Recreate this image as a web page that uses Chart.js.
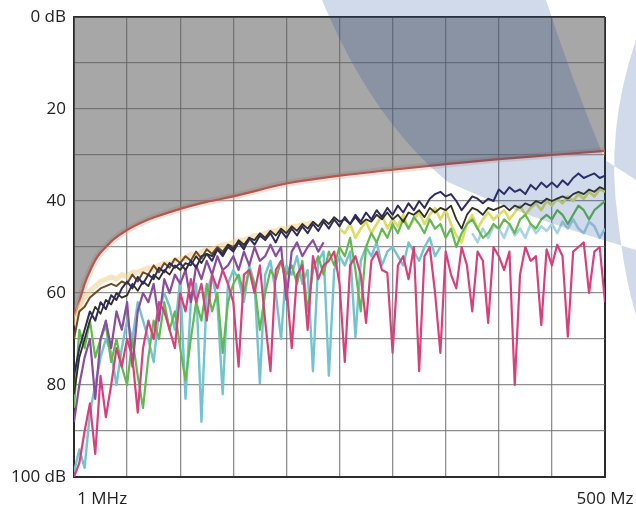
<!DOCTYPE html>
<html>
<head>
<meta charset="utf-8">
<script src="https://cdn.jsdelivr.net/npm/chart.js@4"></script>
<style>
  html, body { margin: 0; padding: 0; background: #fff; }
</style>
</head>
<body>
<canvas id="graph" width="636" height="513"></canvas>
<script>
// sample positions along the x axis, in grid divisions (1 MHz .. 500 MHz)
const freq = [
  0, 0.1, 0.2, 0.3, 0.4, 0.5, 0.6, 0.7, 0.8, 0.9,
  1, 1.1, 1.2, 1.3, 1.4, 1.5, 1.6, 1.7, 1.8, 1.9,
  2, 2.1, 2.2, 2.3, 2.4, 2.5, 2.6, 2.7, 2.8, 2.9,
  3, 3.1, 3.2, 3.3, 3.4, 3.5, 3.6, 3.7, 3.8, 3.9,
  4, 4.1, 4.2, 4.3, 4.4, 4.5, 4.6, 4.7, 4.8, 4.9,
  5, 5.1, 5.2, 5.3, 5.4, 5.5, 5.6, 5.7, 5.8, 5.9,
  6, 6.1, 6.2, 6.3, 6.4, 6.5, 6.6, 6.7, 6.8, 6.9,
  7, 7.1, 7.2, 7.3, 7.4, 7.5, 7.6, 7.7, 7.8, 7.9,
  8, 8.1, 8.2, 8.3, 8.4, 8.5, 8.6, 8.7, 8.8, 8.9,
  9, 9.1, 9.2, 9.3, 9.4, 9.5, 9.6, 9.7, 9.8, 9.9,
  10
];

// limit curve
const limitX = [0, 0.05, 0.11, 0.2, 0.3, 0.43, 0.6, 0.75, 1.0, 1.25, 1.5, 2, 2.5, 3, 4, 5, 6, 7, 8, 9, 10];
const limitDb = [65, 63.5, 61.5, 58, 55.2, 52.3, 50, 48.3, 46.3, 44.8, 43.6, 41.7, 40.2, 39, 36.2, 34.5, 33.2, 32, 30.9, 30, 29.1];

// measured traces (dB), starting at freq index given in the *Start constants
const navyDb = [
  78, 72, 68, 64, 66, 62, 63.5, 60.5, 61.5, 59,
  57.5, 59, 56.5, 58, 56, 57, 54.5, 55.5, 53.5, 54.5,
  53.5, 55, 53, 54.5, 52, 51.5, 53, 50.5, 52, 50,
  51, 49, 50.5, 48, 49.5, 47.5, 48.5, 47, 49, 46.5,
  48, 46, 47.5, 45.5, 47, 45, 46.5, 44.5, 46, 44,
  45.5, 43.5, 45, 43, 44.5, 42.5, 44, 42, 43.5, 41.5,
  43, 41, 42.5, 40.5, 42, 40, 41.5, 39.5, 38.5, 38,
  39, 38.5, 40, 42, 40.5, 39, 39.5, 40.5, 39.5, 40,
  37.5, 38.5, 37, 38, 37.5, 38.5, 36.5, 37.5, 36, 37,
  36, 37, 35.5, 36.5, 35, 34, 35, 34.5, 34, 35,
  34.5
];
const blackDb = [
  82, 74, 70, 66, 63, 64.5, 61.5, 62.5, 60, 61,
  60.5, 58, 59.5, 57.5, 58.5, 56, 57, 55, 56, 54,
  55, 53.5, 54, 52, 53.5, 51.5, 52, 50.5, 51.5, 49.5,
  50.5, 48.5, 49.5, 48, 48.5, 47, 48, 46.5, 47.5, 46,
  47, 45.5, 46.5, 45, 46, 44.5, 45.5, 44, 45, 43.5,
  44.5, 44, 45, 43.5, 45, 44, 44.5, 43, 44, 42.5,
  44, 43, 44.5, 42.5, 43, 42, 43.5, 41.5, 42.5, 41.5,
  42, 41, 44, 46, 43, 41.5, 42, 43, 41.5, 42,
  41.5, 41, 42, 41, 41.5, 40.5, 41, 40, 40.5, 39.5,
  40, 39.5, 39, 39.5, 38.5, 38, 38.5, 37.5, 38, 37,
  37.5
];
const brownDb = [
  70, 64, 63, 61, 60, 59, 58.5, 58, 58.5, 57.5,
  58, 56, 57.5, 55.5, 56, 54, 55.5, 53.5, 54.5, 52.5,
  53.5, 52, 53, 51, 52.5, 50.5, 51.5, 50, 51, 49.5,
  50, 49, 50, 48.5
];
const tanDb = [
  67, 63, 61, 59.5, 58.5, 57.5, 57, 56.5, 57, 56,
  56.5, 55.5, 55.5, 55, 54.5, 55, 54, 53.5, 53.5, 53,
  52.5, 52.5, 51.5, 52, 51, 50.5, 50.5, 50, 49.5, 49.5,
  49, 48.5, 48.5, 48, 47.5, 47.5, 47, 46.5, 46.5, 46,
  46, 45.5, 45.5, 45, 45, 44.5
];
const greenDb = [
  85, 68, 72, 66, 74, 70, 67, 75, 70, 76,
  80, 70, 78, 85, 74, 66, 70, 62, 68, 64,
  72, 79, 70, 62, 66, 58, 64, 60, 73, 62,
  58, 56, 60, 55, 58, 68, 60, 55, 57, 53,
  56, 54, 58, 53, 64, 55, 52, 56, 51, 54,
  50, 52, 48, 55, 64, 50, 47, 49, 46, 48,
  45, 47, 44, 46, 43.5, 45, 47, 44, 46, 45,
  48, 46, 50, 47, 45, 44, 46, 48, 47, 45,
  46, 44, 45, 47, 44, 43, 45, 46, 44, 43,
  44, 42, 43, 45, 43, 41, 42, 44, 42, 41,
  40
];
const pinkDb = [
  100, 97, 90, 84, 95, 78, 87, 80, 72, 76,
  70, 74, 86, 72, 66, 70, 62, 64, 68, 72,
  60, 64, 57, 62, 58, 66, 56, 59, 55, 58,
  62, 76, 56, 55, 60, 54, 66, 77, 55, 53,
  58, 72, 56, 54, 68, 52, 57, 54, 53, 51,
  58, 75, 54, 52, 56, 66.5, 53, 51, 55, 55.6,
  73, 54, 52, 57, 50, 77, 52, 50, 60, 73,
  51, 56, 59, 50, 54, 64, 51, 53, 66.5, 50,
  52, 55, 51, 80, 56, 50, 53, 52, 67, 50.5,
  54, 49.5, 52, 69.5, 51, 50, 49, 60, 51, 50,
  62
];
const cyanDb = [
  99, 94, 98, 86, 80, 74, 70, 73, 80, 72,
  66, 70, 62, 66, 70, 75, 64, 60, 63, 68,
  57, 83, 62, 58, 88, 60, 56, 62, 82, 58,
  55, 57, 62, 54, 58, 79.6, 56, 53, 60, 70,
  54, 56, 52, 58, 55, 77, 53, 51, 78, 55,
  52, 54, 51, 69.6, 53, 50, 52, 49, 54, 51,
  50, 52, 54, 49, 51, 53, 50, 48, 52, 50
];
const purpleDb = [
  88, 80, 74, 70, 83, 70, 66, 72, 64, 68,
  62, 76, 64, 60, 62, 58, 66, 57, 60, 56,
  58, 55, 62, 54, 57, 53, 56, 52, 55, 54,
  52, 55, 51, 54, 50, 53, 52, 49.5, 52, 50,
  61.5, 51, 49, 52, 50, 48.5, 51, 49
];
const yellowStart = 50;
const yellowDb = [
  46, 47, 45, 48, 46, 44.5, 47, 45, 43, 46,
  44, 45.5, 43, 46, 44, 42.5, 45, 43, 41.5, 44,
  42, 45, 47.5, 49, 45, 43, 46, 44, 42.5, 44,
  43, 42, 44, 42.5, 41, 43, 41.5, 40.5, 42, 40,
  41, 39.5, 40.5, 39, 40, 38.5, 39.5, 38, 39, 37.5,
  38
];
const lightBlueStart = 75;
const lightBlueDb = [
  47, 49, 46, 48, 45.5,
  46, 48, 45, 47.5, 46, 48, 45, 47, 45.5, 46.5,
  45, 47, 44.5, 46, 44, 46, 47, 44.5, 45.5, 48,
  46
];

const yTickValues = [0, 20, 40, 60, 80, 100];
const yTickLabels = ['0 dB', '20', '40', '60', '80', '100 dB'];
const xTickPos = [0.53, 10];
const xTickLabels = ['1 MHz', '500 Mz'];

function pts(vals, start) {
  return vals.map((v, i) => ({ x: freq[start + i], y: v }));
}

function trace(vals, start, color, width) {
  return {
    data: pts(vals, start),
    borderColor: color,
    borderWidth: width,
    fill: false,
    xAxisID: 'x'
  };
}

const labelFont = { family: 'Open Sans', size: 17 };
const edgeColor = '#2b2b2b';
const gridColor = 'rgba(105,105,105,0.75)';

// translucent logo watermark lying over the picture
const watermark = {
  id: 'watermark',
  afterDraw(chart) {
    const c = chart.ctx;
    c.save();
    c.fillStyle = 'rgba(20,70,150,0.2)';
    c.beginPath();
    c.moveTo(322, 0);
    c.lineTo(546, 0);
    c.quadraticCurveTo(572, 80, 605, 160);
    c.lineTo(636, 180);
    c.lineTo(636, 250);
    c.lineTo(613, 243);
    c.quadraticCurveTo(520, 215, 448, 182);
    c.quadraticCurveTo(372, 120, 322, 0);
    c.closePath();
    c.moveTo(636, 40);
    c.quadraticCurveTo(605, 130, 618, 220);
    c.quadraticCurveTo(625, 280, 636, 315);
    c.closePath();
    c.fill();
    c.restore();
  }
};

const ctx = document.getElementById('graph').getContext('2d');
const graph = new Chart(ctx, {
  type: 'line',
  data: {
    datasets: [
      trace(navyDb, 0, '#2f2b5c', 2),
      trace(blackDb, 0, '#33301f', 1.8),
      trace(brownDb, 0, '#6e4a26', 2),
      trace(pinkDb, 0, '#d8407c', 2.2),
      trace(purpleDb, 0, '#8a4c9e', 2.2),
      trace(greenDb, 0, '#62b94f', 2.2),
      trace(cyanDb, 0, '#74c4d0', 2.4),
      trace(yellowDb, yellowStart, '#dcdc66', 2.6),
      trace(lightBlueDb, lightBlueStart, '#a9d2e6', 2.6),
      trace(tanDb, 0, 'rgba(240,208,140,0.55)', 5),
      {
        data: limitX.map((x, i) => ({ x: x, y: limitDb[i] })),
        borderColor: '#b4574c',
        borderWidth: 2.2,
        cubicInterpolationMode: 'monotone',
        fill: { value: 0 },
        backgroundColor: 'rgba(95,95,95,0.55)',
        xAxisID: 'x'
      },
      {
        data: limitX.map((x, i) => ({ x: x, y: limitDb[i] })),
        borderColor: 'rgba(235,170,150,0.35)',
        borderWidth: 7,
        cubicInterpolationMode: 'monotone',
        fill: false,
        xAxisID: 'x'
      }
    ]
  },
  options: {
    responsive: false,
    animation: false,
    layout: { padding: { top: 17, right: 31, left: 0, bottom: 0 } },
    plugins: { legend: { display: false }, tooltip: { enabled: false } },
    elements: { point: { radius: 0 }, line: { tension: 0, borderJoinStyle: 'round' } },
    scales: {
      x: {
        type: 'linear', min: 0, max: 10,
        ticks: { display: false, stepSize: 1 },
        grid: {
          drawTicks: false,
          color: c => (c.tick.value === 0 || c.tick.value === 10) ? edgeColor : gridColor,
          lineWidth: c => (c.tick.value === 0 || c.tick.value === 10) ? 2 : 1.3
        },
        border: { display: true, color: edgeColor, width: 2 },
        afterFit: s => { s.height = 0; }
      },
      xl: {
        type: 'linear', position: 'bottom', min: 0, max: 10,
        grid: { display: false, drawTicks: false },
        border: { display: false },
        afterBuildTicks: s => { s.ticks = xTickPos.map(v => ({ value: v })); },
        ticks: {
          autoSkip: false, maxRotation: 0, padding: 12, color: '#222', font: labelFont,
          callback: (v, i) => xTickLabels[i]
        },
        afterFit: s => { s.height = 36; s.paddingLeft = 0; s.paddingRight = 0; }
      },
      y: {
        type: 'linear', reverse: true, min: 0, max: 100,
        ticks: {
          stepSize: 10, autoSkip: false, padding: 8, color: '#222', font: labelFont,
          callback: v => {
            const k = yTickValues.indexOf(v);
            return k < 0 ? '' : yTickLabels[k];
          }
        },
        grid: {
          drawTicks: false,
          color: c => (c.tick.value === 0 || c.tick.value === 100) ? edgeColor : gridColor,
          lineWidth: c => (c.tick.value === 0 || c.tick.value === 100) ? 2 : 1.3
        },
        border: { display: true, color: edgeColor, width: 2 },
        afterFit: s => { s.width = 74; s.paddingTop = 0; s.paddingBottom = 0; }
      }
    }
  },
  plugins: [watermark]
});
</script>
</body>
</html>
